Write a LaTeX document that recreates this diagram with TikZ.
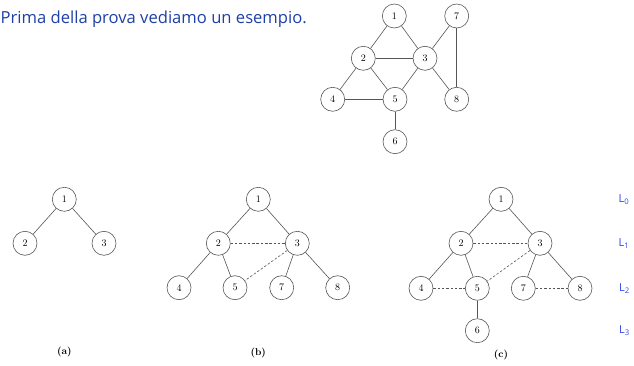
\documentclass[tikz,border=0pt]{standalone}
\usepackage{fontspec}
\newfontfamily\titlefont{Open Sans}
\newfontfamily\lfont{Open Sans}
\definecolor{titleblue}{HTML}{1E3FA6}
\definecolor{lblue}{HTML}{3045E8}
\definecolor{edgegray}{HTML}{555555}
\begin{document}
\begin{tikzpicture}[x=1pt,y=-1pt,
  vtx/.style={circle,draw=edgegray,line width=0.6pt,minimum size=24pt,inner sep=0pt,font=\fontsize{10}{11}\selectfont},
  edge/.style={draw=edgegray,line width=0.6pt},
  back/.style={draw=edgegray,line width=0.6pt,dash pattern=on 2.5pt off 1.8pt},
  subcap/.style={font=\bfseries\fontsize{10}{11}\selectfont},
  lvl/.style={text=lblue,font=\lfont\fontsize{11}{12}\selectfont}]
\useasboundingbox (0,0) rectangle (634,366);
\node[anchor=west,text=titleblue,font=\titlefont\fontsize{16.6}{18}\selectfont,inner sep=0pt] (title) at (0.5,19) {Prima della prova vediamo un esempio.};
% top graph
\node[vtx] (g1) at (394.3,16) {1};
\node[vtx] (g7) at (456.7,16) {7};
\node[vtx] (g2) at (363.3,58.3) {2};
\node[vtx] (g3) at (425,58.3) {3};
\node[vtx] (g4) at (332.7,99.3) {4};
\node[vtx] (g5) at (395,99.3) {5};
\node[vtx] (g8) at (456.7,99.3) {8};
\node[vtx] (g6) at (395,141.7) {6};
\foreach \a/\b in {g1/g2,g1/g3,g2/g3,g2/g4,g2/g5,g3/g5,g3/g7,g3/g8,g7/g8,g4/g5,g5/g6}
  \path[edge] (\a) -- (\b);
% tree a
\node[vtx] (a1) at (64.3,199.3) {1};
\node[vtx] (a2) at (25,243.3) {2};
\node[vtx] (a3) at (104,243.3) {3};
\path[edge] (a1) -- (a2);
\path[edge] (a1) -- (a3);
\node[subcap] (la) at (64.3,352) {(a)};
% tree b
\node[vtx] (b1) at (258.3,199.3) {1};
\node[vtx] (b2) at (218.3,243.3) {2};
\node[vtx] (b3) at (297.3,243.3) {3};
\node[vtx] (b4) at (179,287.7) {4};
\node[vtx] (b5) at (235,287.7) {5};
\node[vtx] (b7) at (281.7,287.7) {7};
\node[vtx] (b8) at (337.7,287.7) {8};
\foreach \a/\b in {b1/b2,b1/b3,b2/b4,b2/b5,b3/b7,b3/b8}
  \path[edge] (\a) -- (\b);
\path[back] (b2) -- (b3);
\path[back] (b3) -- (b5);
\node[subcap] (lb) at (258.3,352.5) {(b)};
% tree c
\node[vtx] (c1) at (501,199.3) {1};
\node[vtx] (c2) at (461,243.3) {2};
\node[vtx] (c3) at (540,243.3) {3};
\node[vtx] (c4) at (421,288.3) {4};
\node[vtx] (c5) at (477.3,288.3) {5};
\node[vtx] (c7) at (523.3,288.3) {7};
\node[vtx] (c8) at (580,288.3) {8};
\node[vtx] (c6) at (477.3,330.7) {6};
\foreach \a/\b in {c1/c2,c1/c3,c2/c4,c2/c5,c3/c7,c3/c8,c5/c6}
  \path[edge] (\a) -- (\b);
\path[back] (c2) -- (c3);
\path[back] (c3) -- (c5);
\path[back] (c4) -- (c5);
\path[back] (c7) -- (c8);
\node[subcap] (lc) at (501,354.5) {(c)};
% levels
\node[lvl] (L0) at (624,199.3) {L\textsubscript{0}};
\node[lvl] (L1) at (624,243.3) {L\textsubscript{1}};
\node[lvl] (L2) at (624.5,288.3) {L\textsubscript{2}};
\node[lvl] (L3) at (624.5,331) {L\textsubscript{3}};
\end{tikzpicture}
\end{document}
